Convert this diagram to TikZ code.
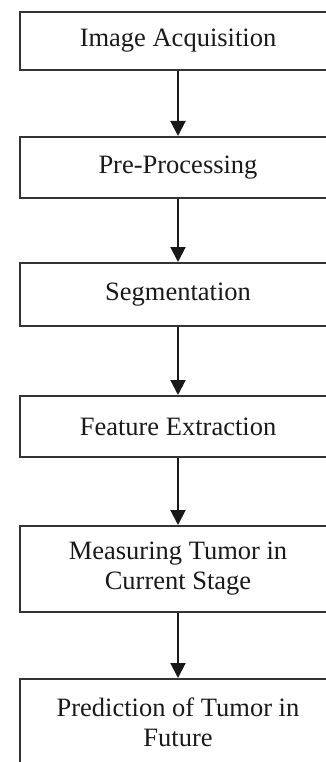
\documentclass[tikz,border=0pt]{standalone}
\usepackage{fontspec}
\setmainfont{Liberation Serif}
\usetikzlibrary{arrows.meta}
\begin{document}
\begin{tikzpicture}[x=1pt,y=-1pt,
  stage/.style={draw=black!80, line width=2pt, minimum width=316pt, inner sep=0pt, align=center,
    font=\fontsize{26.5}{30}\selectfont, text=black!90},
  flow/.style={draw=black!90, line width=2pt, -{Triangle[length=15pt,width=15pt]}}]
\useasboundingbox (0,0) rectangle (326,762);
\node[stage, minimum height=58pt] (a) at (178,41) {Image Acquisition};
\node[stage, minimum height=61pt] (b) at (178,167.5) {Pre-Processing};
\node[stage, minimum height=63pt] (c) at (178,294.5) {Segmentation};
\node[stage, minimum height=61pt] (d) at (178,426.5) {Feature Extraction};
\node[stage, minimum height=86pt] (e) at (178,569) {Measuring Tumor in\\Current Stage};
\node[stage, minimum height=86pt] (f) at (178,722) {Prediction of Tumor in\\Future};
\draw[flow] (a) -- (b);
\draw[flow] (b) -- (c);
\draw[flow] (c) -- (d);
\draw[flow] (d) -- (e);
\draw[flow] (e) -- (f);
\end{tikzpicture}
\end{document}
